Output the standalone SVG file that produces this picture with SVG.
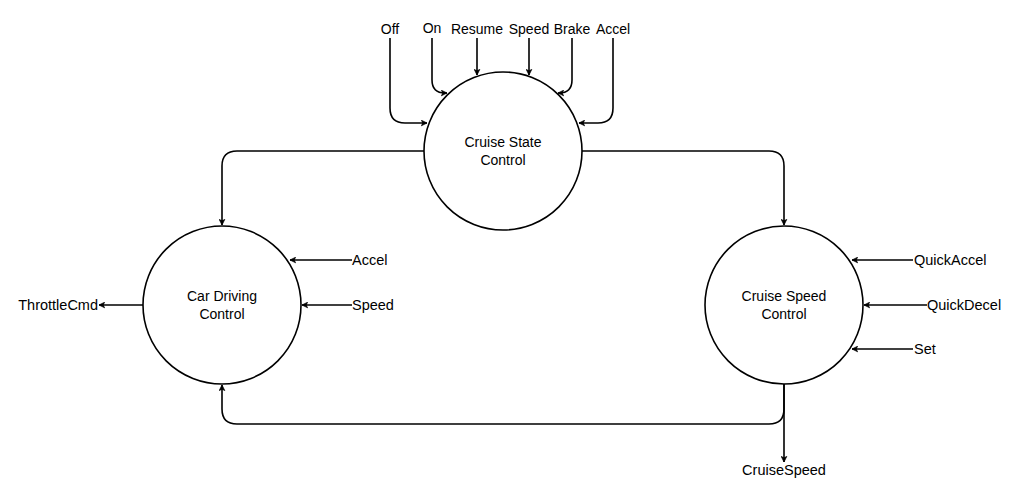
<svg xmlns="http://www.w3.org/2000/svg" width="1029" height="503" viewBox="0 0 1029 503">
<style>
.n{fill:#fff;stroke:#000;stroke-width:1.6}
.c{fill:none;stroke:#000;stroke-width:1.6;marker-end:url(#a)}
text{font-family:"Liberation Sans",Arial,sans-serif;font-size:14.5px;fill:#000}
.t{text-anchor:middle;font-size:14px}
.m{text-anchor:middle;font-size:14px}
</style>
<defs>
<marker id="a" viewBox="0 0 10 10" refX="9" refY="5" markerWidth="7" markerHeight="7" markerUnits="userSpaceOnUse" orient="auto">
<path d="M1,1 L9,5 L1,9 L3,5 Z" fill="#000" stroke="#000" stroke-width="1"/>
</marker>
</defs>
<rect width="1029" height="503" fill="#fff"/>
<g id="connectors">
<path class="c" d="M424,151 H237 Q222,151 222,166 V225"/>
<path class="c" d="M582,151 H769 Q784,151 784,166 V225"/>
<path class="c" d="M784,384 V409 Q784,424 769,424 H237 Q222,424 222,409 V385"/>
<path class="c" d="M784,384 V462"/>
<path class="c" d="M390,38 V108 Q390,123 405,123 H427"/>
<path class="c" d="M432,38 V80 Q432,93 445,93 H447"/>
<path class="c" d="M477,38 V75"/>
<path class="c" d="M529,38 V75"/>
<path class="c" d="M572,38 V80 Q572,93 559,93 H558"/>
<path class="c" d="M613,38 V108 Q613,123 598,123 H579"/>
<path class="c" d="M352,260 H290"/>
<path class="c" d="M352,305 H302"/>
<path class="c" d="M143,305 H99"/>
<path class="c" d="M913,260 H852"/>
<path class="c" d="M927,305 H864"/>
<path class="c" d="M913,349 H852"/>
</g>
<g id="cruise-state"><circle class="n" cx="503" cy="151" r="79"/><text class="m" x="503" y="147">Cruise State</text><text class="m" x="503" y="165">Control</text></g>
<g id="car-driving"><circle class="n" cx="222" cy="305" r="79"/><text class="m" x="222" y="301">Car Driving</text><text class="m" x="222" y="319">Control</text></g>
<g id="cruise-speed"><circle class="n" cx="784" cy="305" r="79"/><text class="m" x="784" y="301">Cruise Speed</text><text class="m" x="784" y="319">Control</text></g>
<g id="labels">
<text class="t" x="390" y="34">Off</text>
<text class="t" x="432" y="33">On</text>
<text class="t" x="477" y="34">Resume</text>
<text class="t" x="529" y="34">Speed</text>
<text class="t" x="572" y="34">Brake</text>
<text class="t" x="613" y="34">Accel</text>
<text x="352" y="265">Accel</text>
<text x="352" y="310">Speed</text>
<text x="98" y="310" text-anchor="end">ThrottleCmd</text>
<text x="914" y="265">QuickAccel</text>
<text x="927" y="310">QuickDecel</text>
<text x="914" y="354">Set</text>
<text x="784" y="475" text-anchor="middle">CruiseSpeed</text>
</g>
</svg>
